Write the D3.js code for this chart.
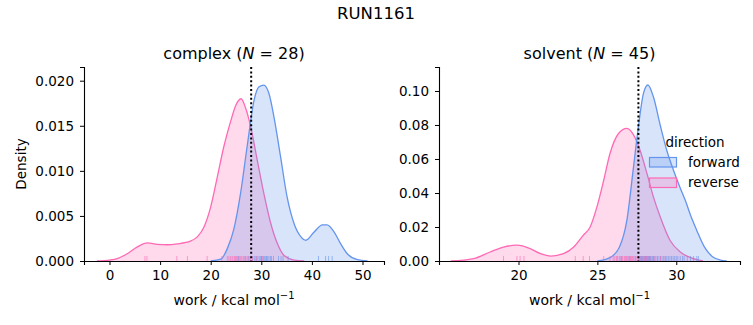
<!DOCTYPE html>
<html>
<head>
<meta charset="utf-8">
<script src="https://cdn.jsdelivr.net/npm/d3@7"></script>
<style>
  body { margin: 0; background: #fff; }
  svg { display: block; font-family: "DejaVu Sans", sans-serif; }
</style>
</head>
<body>
<svg id="chart" width="753" height="325"></svg>
<script>
// kde curves: [work, density]
const complexForward = [[20, 0], [22, 0.0002], [23.3, 0.0014], [24.6, 0.0036], [25.9, 0.0075],
  [27.2, 0.0127], [28.6, 0.0179], [29.5, 0.0193], [30.5, 0.0195], [31.5, 0.0186], [32.5, 0.016],
  [33.8, 0.0116], [35.1, 0.0071], [36.5, 0.0041], [37.8, 0.0027], [38.8, 0.0023], [40.4, 0.0032],
  [42.1, 0.004], [43.0, 0.004], [44.4, 0.0032], [45.7, 0.0019], [47.0, 0.0008], [49, 0.00015], [51, 0]];
const complexReverse = [[-2.5, 0], [0, 0.0001], [1.5, 0.00026], [3.5, 0.0008], [5.5, 0.00156],
  [7.5, 0.002], [9.4, 0.00185], [11.4, 0.0018], [13.4, 0.0019], [16.0, 0.0022], [17.4, 0.0027],
  [18.7, 0.0038], [20, 0.006], [21.3, 0.0093], [22.6, 0.0127], [24.0, 0.0156], [24.9, 0.0172],
  [26.0, 0.018], [27.0, 0.0168], [27.9, 0.0149], [29.2, 0.0112], [30.5, 0.0075], [31.9, 0.0041],
  [33.2, 0.0019], [34.5, 0.0006], [36.5, 0.0001], [38.5, 0]];
const solventForward = [[25.0, 0], [25.8, 0.002], [26.4, 0.0082], [26.87, 0.024], [27.29, 0.0554],
  [27.6, 0.079], [27.92, 0.0986], [28.2, 0.1035], [28.55, 0.0966], [28.98, 0.080], [29.4, 0.065],
  [29.8, 0.054], [30.25, 0.043], [30.6, 0.035], [30.9, 0.027], [31.3, 0.018], [31.8, 0.008],
  [32.3, 0.0025], [32.8, 0.0005], [33.2, 0]];
const solventReverse = [[15.7, 0], [17.15, 0.0014], [18.2, 0.0053], [19.05, 0.0082], [19.9, 0.0093],
  [20.74, 0.0073], [21.4, 0.0043], [22.05, 0.0029], [22.85, 0.0043], [23.5, 0.0082], [24.1, 0.0151],
  [24.54, 0.020], [24.97, 0.0318], [25.4, 0.0475], [25.8, 0.0632], [26.34, 0.075], [26.87, 0.078],
  [27.3, 0.074], [27.71, 0.065], [28.14, 0.0515], [28.55, 0.0377], [28.98, 0.026], [29.6, 0.0122],
  [30.25, 0.0053], [30.9, 0.002], [31.7, 0]];

// rug samples
const complexForwardRug = [25.5, 26.8, 27.5, 28.3, 28.7, 29.0, 29.3, 29.6, 29.9, 30.0, 30.1, 30.4,
  30.6, 30.9, 31.0, 31.2, 31.5, 31.8, 32.0, 32.4, 33.4, 33.9, 34.3, 35.3, 41.3, 42.7, 43.3, 44.0];
const complexReverseRug = [7.0, 7.4, 13.3, 15.4, 19.3, 22.2, 23.3, 23.6, 23.9, 24.2, 24.4, 24.7,
  24.9, 25.1, 25.3, 25.6, 25.8, 26.0, 26.2, 26.5, 26.8, 27.0, 27.3, 27.6, 27.9, 28.3, 29.0, 30.2];
const solventForwardRug = [26.5, 27.0, 27.4, 27.6, 27.7, 27.75, 27.8, 27.85, 27.9, 27.95, 28.0,
  28.05, 28.1, 28.15, 28.2, 28.25, 28.3, 28.35, 28.4, 28.5, 28.55, 28.6, 28.7, 28.8, 28.9, 29.0,
  29.1, 29.2, 29.3, 29.4, 29.5, 29.6, 29.7, 29.8, 29.9, 30.0, 30.1, 30.25, 30.4, 30.5, 30.7, 30.9,
  31.1, 31.3, 31.4];
const solventReverseRug = [19.05, 19.9, 20.1, 20.35, 23.6, 24.1, 24.5, 25.4, 25.8, 26.0, 26.1, 26.2,
  26.25, 26.3, 26.4, 26.5, 26.55, 26.6, 26.7, 26.75, 26.8, 26.85, 26.9, 27.0, 27.05, 27.1, 27.15,
  27.2, 27.25, 27.3, 27.4, 27.5, 27.6, 27.7, 27.8, 27.9, 28.0, 28.1, 28.2, 28.3, 28.4, 28.6, 28.8,
  29.0, 29.3];

const complexXTicks = [0, 10, 20, 30, 40, 50];
const complexYTicks = [0, 0.005, 0.01, 0.015, 0.02];
const solventXTicks = [20, 25, 30];
const solventYTicks = [0, 0.02, 0.04, 0.06, 0.08, 0.1];
const directions = ['forward', 'reverse'];
const colors = { forward: '#6495ed', reverse: '#ff69b4' };

const svg = d3.select('#chart');
const plotTop = 67, plotBottom = 261;

svg.append('text')
  .attr('x', 376).attr('y', 19)
  .attr('text-anchor', 'middle')
  .style('font-size', '16.5px')
  .text('RUN1161');

const panels = [
  { name: 'complex', n: 28, left: 84, right: 384, xDomain: [-5.04, 54.25], yDomain: [0, 0.02152],
    xTicks: complexXTicks, yTicks: complexYTicks, yFmt: '.3f', mark: 28.0,
    curves: { forward: complexForward, reverse: complexReverse },
    rugs: { forward: complexForwardRug, reverse: complexReverseRug } },
  { name: 'solvent', n: 45, left: 439, right: 740, xDomain: [14.96, 34.04], yDomain: [0, 0.1141],
    xTicks: solventXTicks, yTicks: solventYTicks, yFmt: '.2f', mark: 27.6,
    curves: { forward: solventForward, reverse: solventReverse },
    rugs: { forward: solventForwardRug, reverse: solventReverseRug } }
];

panels.forEach(function(p, i) {
  const x = d3.scaleLinear().domain(p.xDomain).range([p.left, p.right]);
  const y = d3.scaleLinear().domain(p.yDomain).range([plotBottom, plotTop]);
  const g = svg.append('g');

  const area = d3.area()
    .x(d => x(d[0])).y0(y(0)).y1(d => y(d[1]))
    .curve(d3.curveMonotoneX);

  // reverse drawn first so forward sits on top (as seaborn does)
  directions.slice().reverse().forEach(function(dir) {
    g.append('path')
      .datum(p.curves[dir])
      .attr('d', area)
      .attr('fill', colors[dir])
      .attr('fill-opacity', 0.25)
      .attr('stroke', 'none');
    g.append('path')
      .datum(p.curves[dir])
      .attr('d', area.lineY1())
      .attr('fill', 'none')
      .attr('stroke', colors[dir])
      .attr('stroke-width', 1.3);
  });

  directions.forEach(function(dir) {
    g.selectAll('.rug-' + dir)
      .data(p.rugs[dir])
      .enter()
      .append('line')
      .attr('x1', d => x(d)).attr('x2', d => x(d))
      .attr('y1', plotBottom).attr('y2', plotBottom - 5)
      .attr('stroke', colors[dir])
      .attr('stroke-opacity', 0.6)
      .attr('stroke-width', 1);
  });

  g.append('line')
    .attr('x1', x(p.mark)).attr('x2', x(p.mark))
    .attr('y1', plotTop).attr('y2', plotBottom)
    .attr('stroke', '#000')
    .attr('stroke-width', 2)
    .attr('stroke-dasharray', '2,2.4');

  const xAxis = g.append('g')
    .attr('transform', `translate(0,${plotBottom})`)
    .call(d3.axisBottom(x).tickValues(p.xTicks).tickSize(4).tickPadding(5).tickFormat(d3.format('d')));
  const yAxis = g.append('g')
    .attr('transform', `translate(${p.left},0)`)
    .call(d3.axisLeft(y).tickValues(p.yTicks).tickSize(4).tickPadding(6).tickFormat(d3.format(p.yFmt)));

  [xAxis, yAxis].forEach(function(a) {
    a.selectAll('text').style('font-size', '13.5px').attr('fill', '#000').style('font-family', 'DejaVu Sans');
    a.selectAll('line').attr('stroke', '#000').attr('stroke-width', 1);
    a.select('.domain').attr('stroke', '#000').attr('stroke-width', 1.1);
  });

  const cx = (p.left + p.right) / 2;
  const title = g.append('text')
    .attr('x', cx).attr('y', 59)
    .attr('text-anchor', 'middle')
    .style('font-size', '16px');
  title.append('tspan').text(p.name + ' (');
  title.append('tspan').style('font-style', 'italic').text('N');
  title.append('tspan').text(' = ' + p.n + ')');

  const xl = g.append('text')
    .attr('x', cx).attr('y', 305)
    .attr('text-anchor', 'middle')
    .style('font-size', '14px');
  xl.append('tspan').text('work / kcal mol');
  xl.append('tspan').attr('dy', -6).style('font-size', '10px').text('\u22121');

  if (i === 0) {
    g.append('text')
      .attr('transform', `translate(26,${(plotTop + plotBottom) / 2}) rotate(-90)`)
      .attr('text-anchor', 'middle')
      .style('font-size', '13.5px')
      .text('Density');
  }
});

// legend, no frame, over the right panel
const legend = svg.append('g');
legend.append('text')
  .attr('x', 695).attr('y', 146.5)
  .attr('text-anchor', 'middle')
  .style('font-size', '13.5px')
  .text('direction');
directions.forEach(function(dir, k) {
  const ly = 157.5 + k * 20.5;
  legend.append('rect')
    .attr('x', 649.5).attr('y', ly)
    .attr('width', 27).attr('height', 9.5)
    .attr('fill', colors[dir]).attr('fill-opacity', 0.25)
    .attr('stroke', colors[dir]).attr('stroke-width', 1.2);
  legend.append('text')
    .attr('x', 688).attr('y', ly + 9.3)
    .style('font-size', '13.5px')
    .text(dir);
});
</script>
</body>
</html>
